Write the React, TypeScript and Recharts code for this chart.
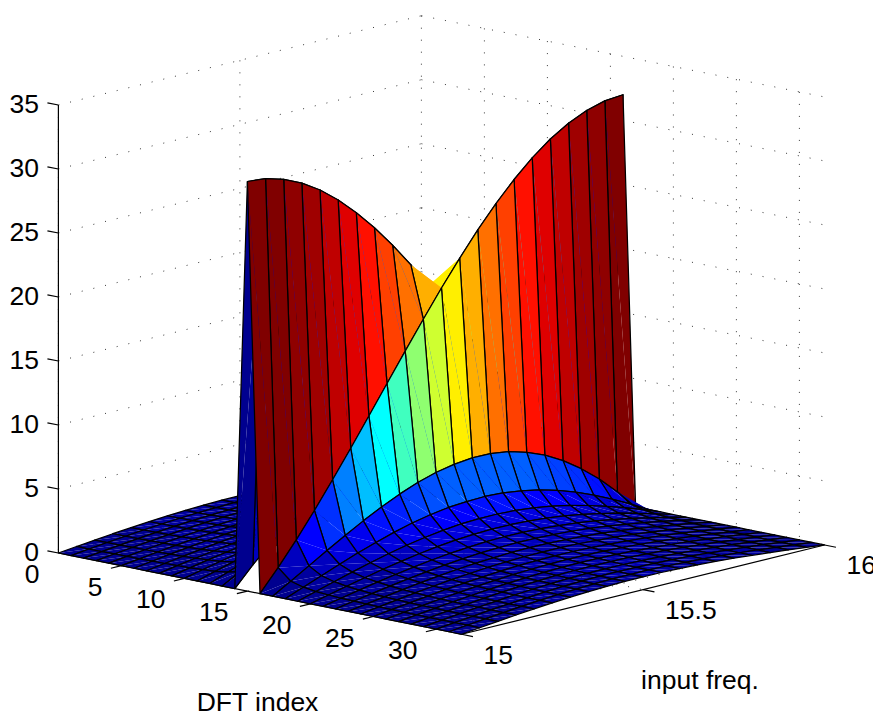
import React from "react";
import { ScatterChart, Scatter, XAxis, YAxis } from "recharts";

const WIDTH = 873;
const HEIGHT = 714;

const dftIndex = Array.from({ length: 33 }, (_, i) => i);
const inputFreq = [15, 15.05, 15.1, 15.15, 15.2, 15.25, 15.3, 15.35, 15.4, 15.45, 15.5, 15.55, 15.6, 15.65, 15.7, 15.75, 15.8, 15.85, 15.9, 15.95, 16];

const zF1500 = [0,0,0,0,0,0,0,0,0,0,0,0,0,0,0,32,0,0,0,0,0,0,0,0,0,0,0,0,0,0,0,0,0];
const zF1505 = [.16,.16,.16,.17,.18,.19,.20,.22,.25,.28,.33,.40,.53,.78,1.52,31.87,1.68,.82,.55,.41,.34,.28,.25,.22,.20,.19,.18,.17,.16,.16,.16,.16,.16];
const zF1510 = [.31,.32,.32,.33,.35,.37,.40,.43,.48,.55,.64,.79,1.03,1.51,2.87,31.47,3.50,1.67,1.10,.83,.67,.57,.49,.44,.40,.37,.35,.34,.32,.32,.31,.31,.31];
const zF1515 = [.46,.46,.47,.49,.51,.54,.58,.63,.70,.80,.94,1.15,1.49,2.17,4.03,30.82,5.45,2.52,1.65,1.23,.99,.84,.73,.65,.60,.55,.52,.50,.48,.47,.46,.45,.46];
const zF1520 = [.59,.60,.61,.63,.66,.70,.75,.82,.91,1.03,1.20,1.47,1.90,2.75,5.01,29.94,7.50,3.35,2.17,1.61,1.30,1.09,.95,.85,.77,.72,.67,.64,.62,.60,.59,.59,.59];
const zF1525 = [.71,.72,.73,.76,.79,.84,.90,.98,1.08,1.23,1.44,1.75,2.26,3.23,5.78,28.81,9.61,4.14,2.65,1.97,1.57,1.32,1.15,1.03,.94,.87,.81,.77,.75,.73,.71,.71,.71];
const zF1530 = [.81,.82,.84,.87,.90,.96,1.02,1.11,1.23,1.40,1.63,1.98,2.54,3.62,6.36,27.47,11.78,4.87,3.09,2.28,1.82,1.53,1.33,1.18,1.07,.99,.93,.89,.85,.83,.82,.81,.81];
const zF1535 = [.89,.90,.92,.95,.99,1.05,1.12,1.22,1.35,1.53,1.78,2.15,2.76,3.90,6.75,25.94,13.97,5.53,3.47,2.54,2.02,1.69,1.47,1.31,1.19,1.10,1.03,.98,.94,.92,.90,.89,.89];
const zF1540 = [.95,.96,.98,1.02,1.06,1.12,1.19,1.30,1.43,1.62,1.88,2.27,2.91,4.08,6.95,24.23,16.16,6.09,3.77,2.75,2.18,1.82,1.58,1.40,1.27,1.18,1.10,1.05,1.01,.98,.96,.95,.95];
const zF1545 = [.99,1.00,1.02,1.05,1.10,1.16,1.24,1.34,1.48,1.67,1.94,2.34,2.98,4.15,6.97,22.36,18.30,6.52,3.99,2.90,2.29,1.91,1.65,1.47,1.33,1.23,1.15,1.09,1.05,1.02,1.00,.99,.99];
const zF1550 = [1.00,1.01,1.03,1.06,1.11,1.17,1.25,1.35,1.49,1.68,1.95,2.34,2.97,4.10,6.81,20.39,20.39,6.81,4.10,2.97,2.34,1.95,1.68,1.49,1.35,1.25,1.17,1.11,1.06,1.03,1.01,1.00,1.00];
const zF1555 = [.99,1.00,1.02,1.05,1.09,1.15,1.23,1.33,1.47,1.65,1.91,2.29,2.90,3.99,6.52,18.30,22.36,6.97,4.15,2.98,2.34,1.94,1.67,1.48,1.34,1.24,1.16,1.10,1.05,1.02,1.00,.99,.99];
const zF1560 = [.95,.96,.98,1.01,1.05,1.10,1.18,1.27,1.40,1.58,1.82,2.18,2.75,3.77,6.09,16.16,24.23,6.95,4.08,2.91,2.27,1.88,1.62,1.43,1.30,1.19,1.12,1.06,1.02,.98,.96,.95,.95];
const zF1565 = [.89,.90,.92,.94,.98,1.03,1.10,1.19,1.31,1.47,1.69,2.02,2.54,3.47,5.53,13.97,25.94,6.75,3.90,2.76,2.15,1.78,1.53,1.35,1.22,1.12,1.05,.99,.95,.92,.90,.89,.89];
const zF1570 = [.81,.82,.83,.85,.89,.93,.99,1.07,1.18,1.33,1.53,1.82,2.28,3.09,4.87,11.78,27.47,6.36,3.62,2.54,1.98,1.63,1.40,1.23,1.11,1.02,.96,.90,.87,.84,.82,.81,.81];
const zF1575 = [.71,.71,.73,.75,.77,.81,.87,.94,1.03,1.15,1.32,1.57,1.97,2.65,4.14,9.61,28.81,5.78,3.23,2.26,1.75,1.44,1.23,1.08,.98,.90,.84,.79,.76,.73,.72,.71,.71];
const zF1580 = [.59,.59,.60,.62,.64,.67,.72,.77,.85,.95,1.09,1.30,1.61,2.17,3.35,7.50,29.94,5.01,2.75,1.90,1.47,1.20,1.03,.91,.82,.75,.70,.66,.63,.61,.60,.59,.59];
const zF1585 = [.45,.46,.47,.48,.50,.52,.55,.60,.65,.73,.84,.99,1.23,1.65,2.52,5.45,30.82,4.03,2.17,1.49,1.15,.94,.80,.70,.63,.58,.54,.51,.49,.47,.46,.46,.45];
const zF1590 = [.31,.31,.32,.32,.34,.35,.37,.40,.44,.49,.57,.67,.83,1.10,1.67,3.50,31.47,2.87,1.51,1.03,.79,.64,.55,.48,.43,.40,.37,.35,.33,.32,.32,.31,.31];
const zF1595 = [.16,.16,.16,.16,.17,.18,.19,.20,.22,.25,.28,.34,.41,.55,.82,1.68,31.87,1.52,.78,.53,.40,.33,.28,.25,.22,.20,.19,.18,.17,.16,.16,.16,.16];
const zF1600 = [0,0,0,0,0,0,0,0,0,0,0,0,0,0,0,0,32,0,0,0,0,0,0,0,0,0,0,0,0,0,0,0,0];

const zRows = [zF1500, zF1505, zF1510, zF1515, zF1520, zF1525, zF1530, zF1535, zF1540, zF1545, zF1550, zF1555, zF1560, zF1565, zF1570, zF1575, zF1580, zF1585, zF1590, zF1595, zF1600];

const zTicks = [0, 5, 10, 15, 20, 25, 30, 35];
const indexTicks = [0, 5, 10, 15, 20, 25, 30];
const freqTicks = [15, 15.5, 16];
const freqTickText = ["15", "15.5", "16"];

const indexMax = 32;
const freqMin = 15;
const freqMax = 16;
const zMax = 35;

// Fixed orthographic view of the 3D box, same as the reference's camera.
const project = (idx: number, f: number, z: number) => ({
  x: 58.4 + idx * 12.6 + (f - 15) * 363,
  y: 553 + idx * 2.54 - (f - 15) * 89.3 - z * 12.8,
});

// MATLAB "jet" with 64 levels.
const jet = (z: number) => {
  const level = Math.min(63, Math.floor((z / 32) * 64));
  const t = (level + 1) / 64;
  const ramp = (c: number) => Math.max(0, Math.min(1, 1.5 - Math.abs(4 * t - c)));
  const hex = (v: number) => Math.round(v * 255).toString(16).padStart(2, "0");
  return `#${hex(ramp(3))}${hex(ramp(2))}${hex(ramp(1))}`;
};

const faceCorners: { x: number; y: number }[] = [];
const faceColors: string[] = [];
const faceOpenOutline: boolean[] = [];
for (let j = inputFreq.length - 2; j >= 0; j--) {
  for (let i = 0; i < dftIndex.length - 1; i++) {
    faceCorners.push(
      project(dftIndex[i], inputFreq[j], zRows[j][i]),
      project(dftIndex[i + 1], inputFreq[j], zRows[j][i + 1]),
      project(dftIndex[i + 1], inputFreq[j + 1], zRows[j + 1][i + 1]),
      project(dftIndex[i], inputFreq[j + 1], zRows[j + 1][i])
    );
    faceColors.push(jet(zRows[j][i]));
    // The folded face at the notch shows no edge along its hidden side in the reference.
    faceOpenOutline.push(i === 15 && j === 9);
  }
}

const gridPoints: { x: number; y: number }[] = [];
const addGrid = (a: number[], b: number[]) => {
  gridPoints.push(project(a[0], a[1], a[2]), project(b[0], b[1], b[2]));
};
zTicks.forEach((z) => {
  addGrid([0, freqMin, z], [0, freqMax, z]);
  addGrid([0, freqMax, z], [indexMax, freqMax, z]);
});
freqTicks.forEach((f) => {
  addGrid([0, f, zMax], [0, f, 0]);
  if (f > freqMin) addGrid([0, f, 0], [indexMax, f, 0]);
});
indexTicks.slice(1).forEach((v) => {
  addGrid([v, freqMax, zMax], [v, freqMax, 0]);
  addGrid([v, freqMax, 0], [v, freqMin, 0]);
});

const axisPoints: { x: number; y: number }[] = [];
const addAxis = (a: number[], b: number[]) => {
  axisPoints.push(project(a[0], a[1], a[2]), project(b[0], b[1], b[2]));
};
addAxis([0, freqMin, 0], [0, freqMin, zMax]);
addAxis([0, freqMin, 0], [indexMax, freqMin, 0]);
addAxis([indexMax, freqMin, 0], [indexMax, freqMax, 0]);
zTicks.forEach((z) => addAxis([0, freqMin, z], [-0.87, freqMin, z]));
indexTicks.slice(1).forEach((v) => addAxis([v, freqMin, 0], [v, freqMin - 0.029, 0]));
freqTicks.forEach((f) => addAxis([indexMax, f, 0], [indexMax + 0.9, f, 0]));

type Lbl = { x: number; y: number; text: string; anchor: string };
const labels: Lbl[] = [];
zTicks.forEach((z) => {
  const p = project(0, freqMin, z);
  labels.push({ x: p.x - 19.5, y: p.y + 7.5, text: String(z), anchor: "end" });
});
indexTicks.forEach((v) => {
  const p = project(v, freqMin, 0);
  labels.push({ x: p.x - 19, y: p.y + 30, text: String(v), anchor: "end" });
});
freqTicks.forEach((f, k) => {
  const p = project(indexMax, f, 0);
  labels.push({ x: p.x + 22, y: p.y + 29.5, text: freqTickText[k], anchor: "start" });
});
labels.push({ x: 257.5, y: 711, text: "DFT index", anchor: "middle" });
labels.push({ x: 700, y: 689, text: "input freq.", anchor: "middle" });

const noMark = () => <g />;
const toPts = (ps: { x: number; y: number }[]) => ps.map((p) => `${p.x},${p.y}`).join(" ");

const drawFaces = (props: any) => {
  const pts: { x: number; y: number }[] = props.points;
  const out: React.ReactNode[] = [];
  for (let q = 0; q + 3 < pts.length; q += 4) {
    const [a, b, c, d] = [pts[q], pts[q + 1], pts[q + 2], pts[q + 3]];
    const fill = faceColors[q / 4];
    const open = faceOpenOutline[q / 4];
    out.push(
      <g key={q}>
        <polygon points={toPts([a, b, c])} fill={fill} />
        <polygon points={toPts([a, c, d])} fill={fill} />
        {open ? (
          <polyline points={toPts([a, b, c])} fill="none" stroke="#000" strokeWidth={1.25} strokeLinejoin="round" />
        ) : (
          <polygon points={toPts([a, b, c, d])} fill="none" stroke="#000" strokeWidth={1.25} strokeLinejoin="round" />
        )}
      </g>
    );
  }
  return <g>{out}</g>;
};

const drawSegments = (style: React.SVGProps<SVGLineElement>) => (props: any) => {
  const pts: { x: number; y: number }[] = props.points;
  const out: React.ReactNode[] = [];
  for (let q = 0; q + 1 < pts.length; q += 2) {
    out.push(<line key={q} x1={pts[q].x} y1={pts[q].y} x2={pts[q + 1].x} y2={pts[q + 1].y} {...style} />);
  }
  return <g>{out}</g>;
};

const drawLabel = (props: any) => (
  <text
    x={props.cx}
    y={props.cy}
    textAnchor={props.payload.anchor}
    fontFamily="'Liberation Sans', Arial, sans-serif"
    fontSize={26.5}
    fill="#000"
  >
    {props.payload.text}
  </text>
);

export default function App() {
  return (
    <div style={{ position: "absolute", left: 0, top: 0, width: WIDTH, height: HEIGHT, background: "#fff" }}>
      <ScatterChart width={WIDTH} height={HEIGHT} margin={{ top: 0, right: 0, bottom: 0, left: 0 }}>
        <XAxis type="number" dataKey="x" domain={[0, WIDTH]} hide />
        <YAxis type="number" dataKey="y" domain={[0, HEIGHT]} reversed hide />
        <Scatter
          data={gridPoints}
          shape={noMark}
          isAnimationActive={false}
          line={drawSegments({ stroke: "#222", strokeWidth: 0.9, strokeDasharray: "1 11" })}
        />
        <Scatter
          data={axisPoints}
          shape={noMark}
          isAnimationActive={false}
          line={drawSegments({ stroke: "#000", strokeWidth: 1.2 })}
        />
        <Scatter data={faceCorners} shape={noMark} isAnimationActive={false} line={drawFaces} />
        <Scatter data={labels} shape={drawLabel} isAnimationActive={false} />
      </ScatterChart>
    </div>
  );
}
